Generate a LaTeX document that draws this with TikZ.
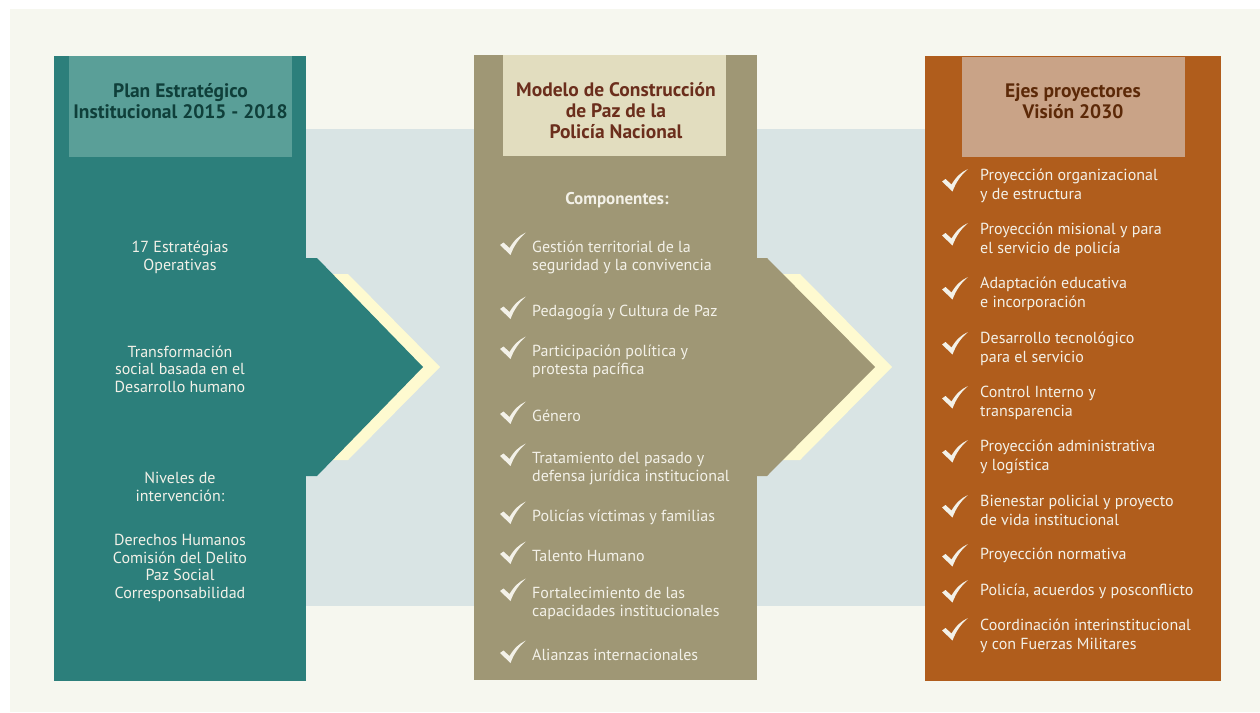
\documentclass[tikz,border=0pt]{standalone}
\usepackage{fontspec}
\setmainfont{PT Sans}
\definecolor{creambg}{HTML}{F6F7EF}
\definecolor{bandcol}{HTML}{D9E4E4}
\definecolor{tealcol}{HTML}{2C7F7B}
\definecolor{tealhead}{HTML}{5A9F98}
\definecolor{tealtxt}{HTML}{0F3F3A}
\definecolor{olivecol}{HTML}{9F9775}
\definecolor{olivehead}{HTML}{E2DDBF}
\definecolor{olivetxt}{HTML}{6B2E1C}
\definecolor{orangecol}{HTML}{B05D1C}
\definecolor{orangehead}{HTML}{C9A387}
\definecolor{orangetxt}{HTML}{5C2908}
\definecolor{yellowcol}{HTML}{FEFAD0}
\definecolor{lighttxt}{HTML}{F3F1E8}
\tikzset{
  bodytxt/.style={inner sep=0, text=lighttxt, font=\fontsize{16}{17.5}\selectfont},
  centertxt/.style={bodytxt, align=center, anchor=base},
  itemtxt/.style={bodytxt, align=left, anchor=base west},
  midtxt/.style={itemtxt, font=\fontsize{16}{18}\selectfont},
  righttxt/.style={itemtxt, font=\fontsize{16}{19.5}\selectfont},
  titletxt/.style={inner sep=0, align=center, anchor=base, font=\bfseries\fontsize{19.5}{21}\selectfont},
  pics/checkmk/.style={code={\fill[lighttxt] (0,12.5) -- (3.5,10) -- (9.5,15.5) .. controls (14,8) and (19,3) .. (26,0) .. controls (19,6) and (14,13) .. (10.5,22.5) -- cycle;}}
}
\begin{document}
\begin{tikzpicture}[x=1pt,y=-1pt]
\useasboundingbox (0,0) rectangle (1260,712);
\fill[white] (0,0) rectangle (1260,712);
\fill[creambg] (10,9) rectangle (1260,712);
\fill[bandcol] (306,129) rectangle (925,606);
% left column
\fill[tealcol] (54,56) rectangle (306,681);
\fill[tealhead] (69,56) rectangle (292,157);
\fill[yellowcol] (316,274) -- (348,274) -- (440,367) -- (348,460) -- (316,460) -- cycle;
\fill[tealcol] (300,258) -- (317,258) -- (423,367) -- (317,476) -- (300,476) -- cycle;
% middle column
\fill[olivecol] (474,55) rectangle (757,680);
\fill[olivehead] (503,55) rectangle (726,156);
\fill[yellowcol] (767,274) -- (800,274) -- (892,367) -- (800,460) -- (767,460) -- cycle;
\fill[olivecol] (750,258) -- (767,258) -- (875,367) -- (767,476) -- (750,476) -- cycle;
% right column
\fill[orangecol] (925,56) rectangle (1221,681);
\fill[orangehead] (962,57) rectangle (1185,157);

% titles (anchor = baseline of last line)
\node[titletxt, text=tealtxt] (t1) at (180.5,118) {Plan Estratégico\\Institucional 2015 - 2018};
\node[titletxt, text=olivetxt] (t2) at (616,138) {Modelo de Construcción\\de Paz de la\\Policía Nacional};
\node[titletxt, text=orangetxt] (t3) at (1073,118) {Ejes proyectores\\Visión 2030};

% left texts
\node[centertxt] (l1) at (180,270) {17 Estratégias\\Operativas};
\node[centertxt] (l2) at (180,392) {Transformación\\social basada en el\\Desarrollo humano};
\node[centertxt] (l3) at (180,501) {Niveles de\\intervención:};
\node[centertxt] (l4) at (180,598) {Derechos Humanos\\Comisión del Delito\\Paz Social\\Corresponsabilidad};

% middle
\node[inner sep=0, anchor=base, text=lighttxt, font=\bfseries\fontsize{17}{18}\selectfont] (comp) at (617,204) {Componentes:};
\foreach \yy/\nl/\txt [count=\i] in {
  246/2/{Gestión territorial de la\\seguridad y la convivencia},
  310/1/{Pedagogía y Cultura de Paz},
  350/2/{Participación política y\\protesta pacífica},
  415/1/{Género},
  457/2/{Tratamiento del pasado y\\defensa jurídica institucional},
  515/1/{Policías víctimas y familias},
  555/1/{Talento Humano},
  592/2/{Fortalecimiento de las\\capacidades institucionales},
  654/1/{Alianzas internacionales}}{
  \pic at (500,\yy-13.5) {checkmk};
  \node[midtxt] (m\i) at (532,{\yy+6+(\nl-1)*18}) {\txt};
}

% right
\foreach \yy/\nl/\cy/\txt [count=\i] in {
  174/2/5/{Proyección organizacional\\y de estructura},
  228/2/5/{Proyección misional y para\\el servicio de policía},
  282/2/5/{Adaptación educativa\\e incorporación},
  337/2/5/{Desarrollo tecnológico\\para el servicio},
  391/2/5/{Control Interno y\\transparencia},
  445/2/5/{Proyección administrativa\\y logística},
  500/2/5/{Bienestar policial y proyecto\\de vida institucional},
  553/1/9/{Proyección normativa},
  589/1/9/{Policía, acuerdos y posconflicto},
  624/2/6/{Coordinación interinstitucional\\y con Fuerzas Militares}}{
  \pic at (942,\yy-\cy) {checkmk};
  \node[righttxt] (r\i) at (980,{\yy+6+(\nl-1)*19.5}) {\txt};
}
\end{tikzpicture}
\end{document}
